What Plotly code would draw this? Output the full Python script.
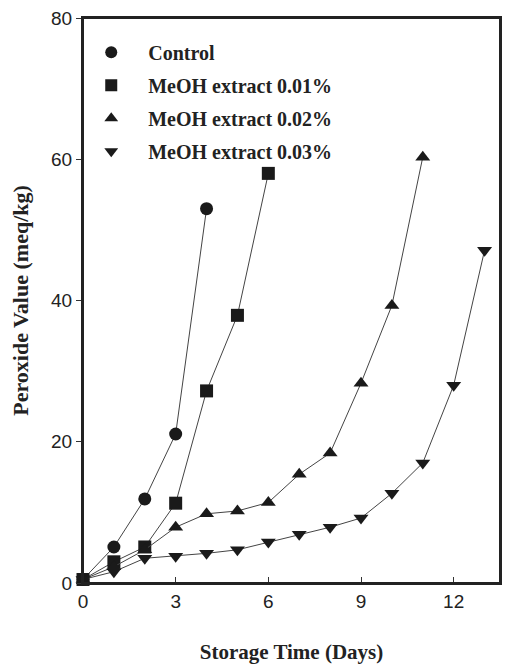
import plotly.graph_objects as go

days_control = [0, 1, 2, 3, 4]
pv_control = [0.5, 5.1, 11.9, 21.1, 53.0]

days_001 = [0, 1, 2, 3, 4, 5, 6]
pv_001 = [0.5, 3.0, 5.1, 11.3, 27.2, 37.9, 58.0]

days_002 = [0, 1, 2, 3, 4, 5, 6, 7, 8, 9, 10, 11]
pv_002 = [0.5, 2.3, 4.7, 7.9, 9.8, 10.2, 11.4, 15.4, 18.4, 28.3, 39.3, 60.3]

days_003 = [0, 1, 2, 3, 4, 5, 6, 7, 8, 9, 10, 11, 12, 13]
pv_003 = [0.5, 1.6, 3.5, 3.8, 4.2, 4.7, 5.8, 6.9, 7.9, 9.2, 12.7, 17.0, 28.0, 47.1]

series_names = ["Control", "MeOH extract 0.01%", "MeOH extract 0.02%", "MeOH extract 0.03%"]
symbols = ["circle", "square", "triangle-up", "triangle-down"]

x_ticks = [0, 3, 6, 9, 12]
y_ticks = [0, 20, 40, 60, 80]

serif_bold = "Liberation Serif"
sans = "Liberation Sans"
ink = "#1a1a1a"

fig = go.Figure()
data = [(days_control, pv_control), (days_001, pv_001), (days_002, pv_002), (days_003, pv_003)]
for i, ((xs, ys), name, sym) in enumerate(zip(data, series_names, symbols)):
    fig.add_trace(go.Scatter(
        x=xs, y=ys, mode="lines+markers", name=name, showlegend=False,
        line=dict(color="#444444", width=1),
        marker=dict(symbol=sym, size=13, color=ink),
        cliponaxis=False,
    ))
for i, (name, sym) in enumerate(zip(series_names, symbols)):
    fig.add_trace(go.Scatter(
        x=[None], y=[None], mode="markers", name=name, legendgroup=f"g{i}",
        marker=dict(symbol=sym, size=13, color=ink),
    ))

fig.add_shape(type="rect", xref="paper", yref="paper", x0=0, x1=1, y0=0, y1=1,
              line=dict(color="#222", width=2), layer="above")

fig.update_layout(
    width=512, height=664,
    margin=dict(l=75, r=20, t=10, b=89),
    paper_bgcolor="white", plot_bgcolor="white",
    showlegend=True,
    legend=dict(
        x=-0.021, y=0.974, xanchor="left", yanchor="top",
        bgcolor="rgba(0,0,0,0)", borderwidth=0,
        font=dict(family=serif_bold, size=20, color="#222", weight="bold"),
        tracegroupgap=4, itemsizing="constant", itemwidth=64,
    ),
    xaxis=dict(
        range=[0, 13.5], tickvals=x_ticks, ticks="inside", ticklen=6,
        tickcolor="#333", showline=True, linecolor="#222", linewidth=2, mirror=True,
        showgrid=False, zeroline=False, automargin=False, ticklabeloverflow="allow",
        tickfont=dict(family=sans, size=19, color="#222"),
        title=dict(text="<b>Storage Time (Days)</b>", font=dict(family=serif_bold, size=21, color="#222"), standoff=34),
    ),
    yaxis=dict(
        range=[0, 80], tickvals=y_ticks, ticks="outside", ticklen=5,
        tickcolor="#333", showline=True, linecolor="#222", linewidth=2, mirror=True,
        showgrid=False, zeroline=False, automargin=False, ticklabeloverflow="allow",
        tickfont=dict(family=sans, size=19, color="#222"),
        title=dict(text="<b>Peroxide Value (meq/kg)</b>", font=dict(family=serif_bold, size=22, color="#222"), standoff=28),
    ),
)

fig.write_html("out.html")
